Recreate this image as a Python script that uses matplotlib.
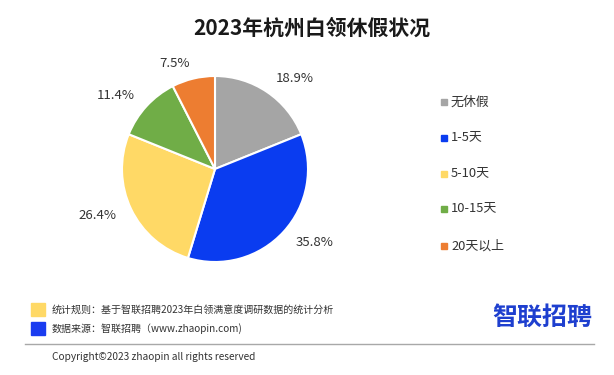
import numpy as np
import matplotlib.pyplot as plt
from matplotlib.patches import Rectangle
from matplotlib.lines import Line2D

plt.rcParams['font.family'] = ['Noto Sans CJK SC', 'DejaVu Sans']

# data
categories = ['无休假', '1-5天', '5-10天', '10-15天', '20天以上']
shares = [18.9, 35.8, 26.4, 11.4, 7.5]
colors = ['#A5A5A5', '#0A3CF0', '#FFD966', '#70AD47', '#ED7D31']

title = '2023年杭州白领休假状况'
note_rule = '统计规则：基于智联招聘2023年白领满意度调研数据的统计分析'
note_source = '数据来源：智联招聘（www.zhaopin.com)'
copyright_text = 'Copyright©2023 zhaopin all rights reserved'

W, H = 614, 375
fig = plt.figure(figsize=(W / 100, H / 100), dpi=100)


def fx(px):
    return px / W


def fy(py):
    return 1 - py / H


# pie, centre (215,169) radius 93 in pixels
cx, cy, r = 215, 169, 93
ax = fig.add_axes([fx(cx - r), fy(cy + r), 2 * r / W, 2 * r / H])
wedges, _, autotexts = ax.pie(
    shares, colors=colors, startangle=90, counterclock=False,
    autopct='%.1f%%', pctdistance=1.17, radius=1,
    wedgeprops=dict(edgecolor='white', linewidth=1.5),
    textprops=dict(fontsize=9.5, color='#333333'))
# outside-end labels: anchor the near edge of the text at the pie rim
for w, t in zip(wedges, autotexts):
    theta = np.deg2rad((w.theta1 + w.theta2) / 2)
    t.set_position((1.17 * np.cos(theta), 1.17 * np.sin(theta)))
    t.set_ha('left' if np.cos(theta) > 0 else 'right')
    t.set_va('center')
ax.set_xlim(-1, 1)
ax.set_ylim(-1, 1)
ax.set_aspect('equal')

fig.text(fx(312), fy(28), title, ha='center', va='center',
         fontsize=15, fontweight='bold', color='#1a1a1a')

# legend
leg_y = [102, 138, 174, 209, 246]
for name, col, y in zip(categories, colors, leg_y):
    fig.patches.append(Rectangle((fx(441), fy(y + 3)), 6 / W, 6 / H,
                                 transform=fig.transFigure, color=col))
    fig.text(fx(451), fy(y), name, ha='left', va='center',
             fontsize=9.3, color='#333333')

# footer notes
for text, col, y in [(note_rule, '#FFD966', 309.5), (note_source, '#1A3CF0', 328.5)]:
    fig.patches.append(Rectangle((fx(31), fy(y + 6.5)), 14 / W, 13 / H,
                                 transform=fig.transFigure, color=col))
    fig.text(fx(52), fy(y), text, ha='left', va='center',
             fontsize=7.2, color='#333333')

fig.text(fx(592), fy(318), '智联招聘', ha='right', va='center',
         fontsize=18, fontweight='bold', color='#1E3FCF')

fig.lines.append(Line2D([fx(25), fx(594)], [fy(344), fy(344)],
                        transform=fig.transFigure, color='#A8A8A8', lw=1))
fig.text(fx(52), fy(357), copyright_text, ha='left', va='center',
         fontsize=7.3, color='#333333')

fig.savefig('out.png', dpi=100)
